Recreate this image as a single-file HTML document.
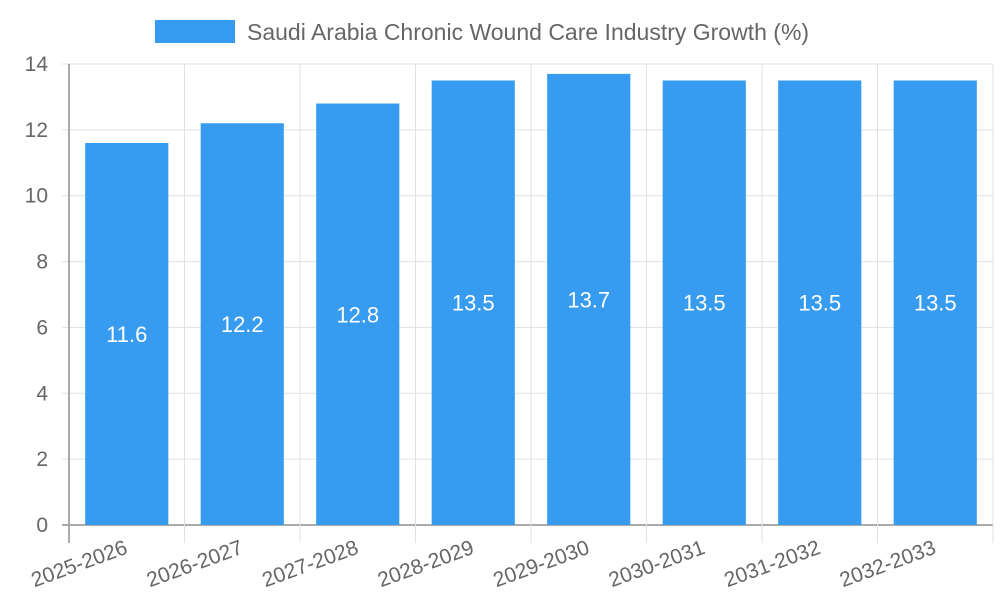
<!DOCTYPE html>
<html><head><meta charset="utf-8"><style>body{margin:0;background:#fff}svg{display:block;font-family:"Liberation Sans",sans-serif}</style></head>
<body>
<svg id="c" width="1000" height="600">
<rect x="155" y="20" width="80" height="23" fill="#379cf0"/>
<text x="247" y="40" font-size="23" fill="#666">Saudi Arabia Chronic Wound Care Industry Growth (%)</text>
</svg>
<script>
const categories=["2025-2026","2026-2027","2027-2028","2028-2029","2029-2030","2030-2031","2031-2032","2032-2033"];
const values=[11.6,12.2,12.8,13.5,13.7,13.5,13.5,13.5];
const yTicks=[0,2,4,6,8,10,12,14];
const svg=document.getElementById('c');const NS='http://www.w3.org/2000/svg';
const L=69,R=993,T=64,B=525,yMax=14;
const y=v=>B-(v/yMax)*(B-T);
const bw=(R-L)/categories.length;
const x=i=>L+bw*i;
function mk(tag,a){const e=document.createElementNS(NS,tag);for(const k in a)e.setAttribute(k,a[k]);svg.appendChild(e);return e;}
yTicks.forEach(t=>{
 const g=mk('line',{x1:62,x2:R,y1:y(t),y2:y(t),stroke:t===0?'#aaa':'#e0e0e0','stroke-width':t===0?2:1});
 
 
 const tx=mk('text',{x:48,y:y(t)+7,'font-size':21,fill:'#666','text-anchor':'end'});tx.textContent=t;
 
 
});
for(let i=0;i<=categories.length;i++){
 const g=mk('line',{x1:x(i),x2:x(i),y1:T,y2:543,stroke:i===0?'#aaa':'#e0e0e0','stroke-width':i===0?2:1});
 
 
}
categories.forEach((c,i)=>{
 const cx=x(i)+bw/2,w=bw*0.72;
 const r=mk('rect',{x:cx-w/2,y:y(values[i]),width:w,height:B-y(values[i]),fill:'#379cf0'});
 
 
 const v=mk('text',{x:cx,y:(y(values[i])+B)/2+8,'font-size':22,fill:'#fff','text-anchor':'middle'});v.textContent=values[i];
 
 
 const l=mk('text',{x:cx+2,y:553,'font-size':21,fill:'#666','text-anchor':'end',transform:`rotate(-20 ${cx+2} 553)`});l.textContent=c;
 
 
});
</script>
</body></html>
